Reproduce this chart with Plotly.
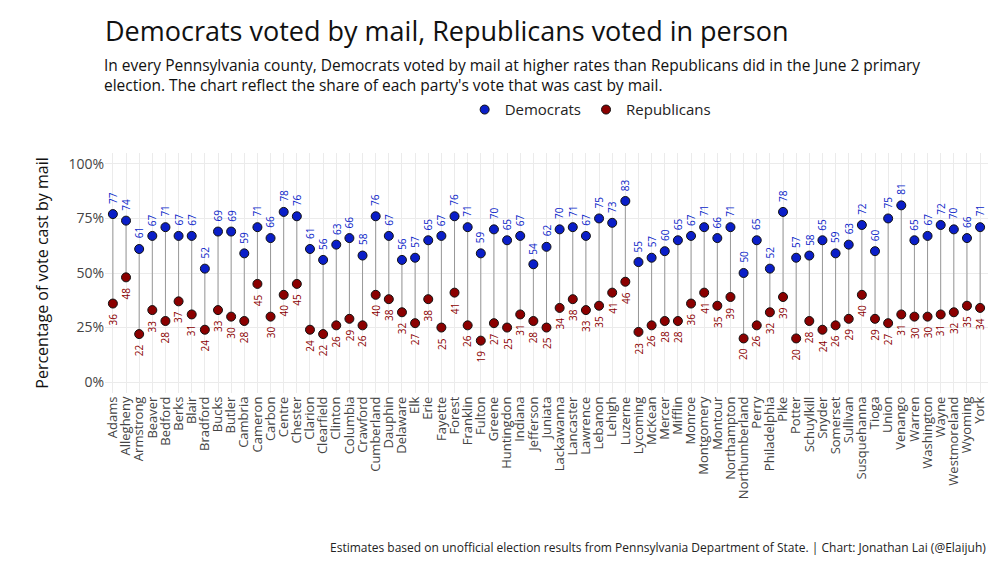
import plotly.graph_objects as go

counties = ["Adams","Allegheny","Armstrong","Beaver","Bedford","Berks","Blair","Bradford","Bucks","Butler",
"Cambria","Cameron","Carbon","Centre","Chester","Clarion","Clearfield","Clinton","Columbia","Crawford",
"Cumberland","Dauphin","Delaware","Elk","Erie","Fayette","Forest","Franklin","Fulton","Greene",
"Huntingdon","Indiana","Jefferson","Juniata","Lackawanna","Lancaster","Lawrence","Lebanon","Lehigh","Luzerne",
"Lycoming","McKean","Mercer","Mifflin","Monroe","Montgomery","Montour","Northampton","Northumberland","Perry",
"Philadelphia","Pike","Potter","Schuylkill","Snyder","Somerset","Sullivan","Susquehanna","Tioga","Union",
"Venango","Warren","Washington","Wayne","Westmoreland","Wyoming","York"]
dem = [77,74,61,67,71,67,67,52,69,69,59,71,66,78,76,61,56,63,66,58,76,67,56,57,65,67,76,71,59,70,
65,67,54,62,70,71,67,75,73,83,55,57,60,65,67,71,66,71,50,65,52,78,57,58,65,59,63,72,60,75,81,65,67,72,70,66,71]
rep = [36,48,22,33,28,37,31,24,33,30,28,45,30,40,45,24,22,26,29,26,40,38,32,27,38,25,41,26,19,27,
25,31,28,25,34,38,33,35,41,46,23,26,28,28,36,41,35,39,20,26,32,39,20,28,24,26,29,40,29,27,31,30,30,31,32,35,34]

DEM_C = "#0a1ec8"
REP_C = "#8b0000"
FONT = "Open Sans"

lx, ly = [], []
for c, d, r in zip(counties, dem, rep):
    lx += [c, c, None]
    ly += [r / 100, d / 100, None]

fig = go.Figure()
fig.add_trace(go.Scatter(x=lx, y=ly, mode="lines", line=dict(color="#999999", width=1),
                         showlegend=False, hoverinfo="skip"))
fig.add_trace(go.Scatter(x=counties, y=[v / 100 for v in dem], mode="markers", name="Democrats",
                         marker=dict(color=DEM_C, size=9, line=dict(color="#111", width=1))))
fig.add_trace(go.Scatter(x=counties, y=[v / 100 for v in rep], mode="markers", name="Republicans",
                         marker=dict(color=REP_C, size=9, line=dict(color="#111", width=1))))

ann = []
for c, d, r in zip(counties, dem, rep):
    ann.append(dict(x=c, y=d / 100, text=str(d), showarrow=False, textangle=-90, yshift=16,
                    font=dict(color=DEM_C, size=10, family=FONT)))
    ann.append(dict(x=c, y=r / 100, text=str(r), showarrow=False, textangle=-90, yshift=-16,
                    font=dict(color=REP_C, size=10, family=FONT)))
ann.append(dict(xref="paper", yref="paper", x=1, y=-0.6, xanchor="right", yanchor="top", showarrow=False,
                text="Estimates based on unofficial election results from Pennsylvania Department of State. | Chart: Jonathan Lai (@Elaijuh)",
                font=dict(size=12, color="#222", family=FONT)))
ann.append(dict(xref="paper", yref="paper", x=-0.003, y=1.42, xanchor="left", yanchor="top", showarrow=False, align="left",
                text="In every Pennsylvania county, Democrats voted by mail at higher rates than Republicans did in the June 2 primary<br>election. The chart reflect the share of each party's vote that was cast by mail.",
                font=dict(size=15.5, color="#111", family=FONT)))

fig.update_layout(
    width=1000, height=562, plot_bgcolor="white", paper_bgcolor="white",
    margin=dict(l=97, r=20, t=145, b=177),
    font=dict(family=FONT, color="#222"),
    title=dict(text="Democrats voted by mail, Republicans voted in person", x=0.097, xanchor="left",
               y=0.975, yanchor="top", font=dict(size=27, color="#111", family=FONT)),
    legend=dict(orientation="h", x=0.55, xanchor="center", y=1.18, yanchor="middle", font=dict(size=15)),
    annotations=ann,
)
fig.update_xaxes(tickangle=-90, tickmode="array", tickvals=counties, ticktext=counties,
                 tickfont=dict(size=13, color="#444"), showgrid=True, gridcolor="#ebebeb",
                 range=[-0.6, len(counties) - 0.4])
fig.update_yaxes(range=[-0.05, 1.05], tickvals=[0, 0.25, 0.5, 0.75, 1.0], tickformat=".0%",
                 tickfont=dict(size=14, color="#444"), showgrid=True, gridcolor="#ebebeb", zeroline=False,
                 title=dict(text="Percentage of vote cast by mail", font=dict(size=16, color="#111")))
fig.write_html("out.html")
